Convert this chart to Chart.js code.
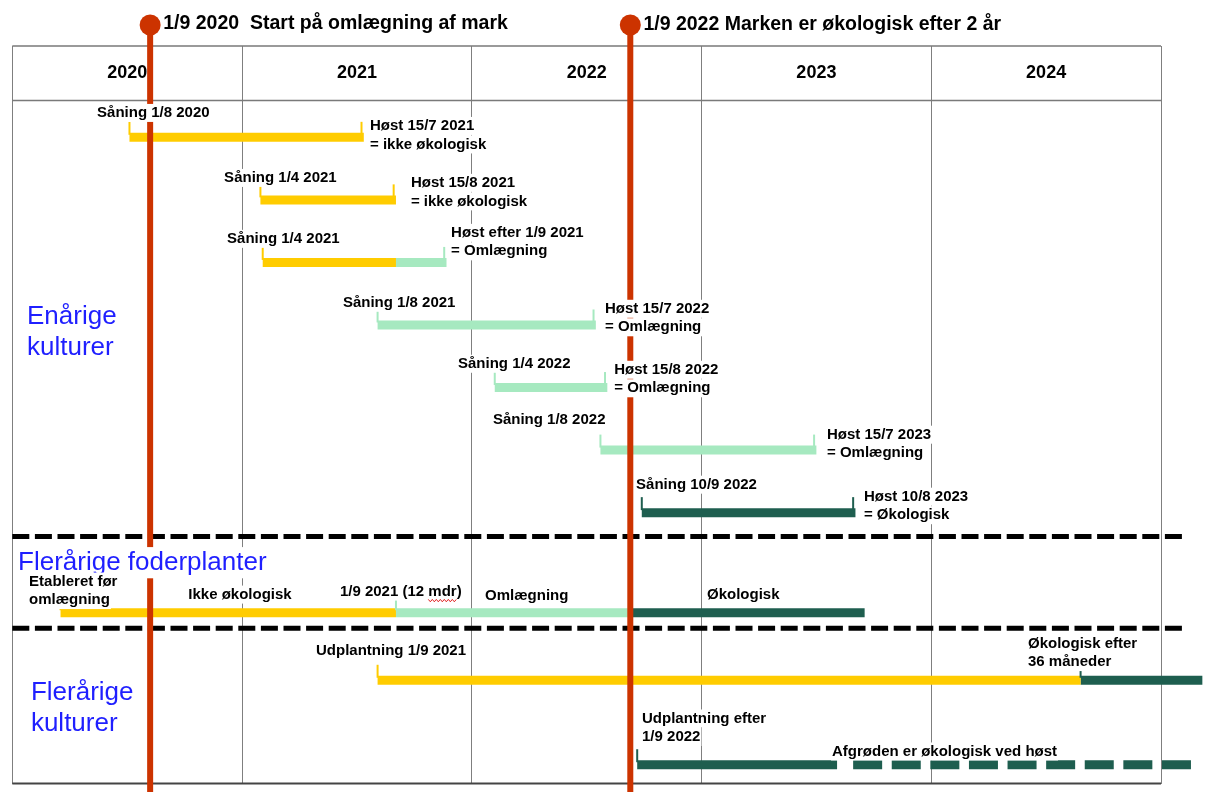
<!DOCTYPE html>
<html>
<head>
<meta charset="utf-8">
<script src="https://cdn.jsdelivr.net/npm/chart.js@4.4.1/dist/chart.umd.min.js"></script>
<style>
  html, body { margin: 0; padding: 0; background: #fff; }
  #wrap { width: 1206px; height: 792px; }
</style>
</head>
<body>
<div id="wrap"><canvas id="myChart"></canvas></div>
<script>
// kolonner i tidslinjen
var years = [2020, 2021, 2022, 2023, 2024];

// rækker: 0-6 enårige, 7.6 foderplanter, 8.68 og 10.03 flerårige
var rowY = [0, 1, 2, 3, 4, 5, 6, 7.6, 8.68, 10.03];

// [række, start, slut] i år
var ikkeOko = [[0, 2020.51, 2021.53], [1, 2021.08, 2021.67], [2, 2021.09, 2021.67], [7, 2020.21, 2021.67], [8, 2021.59, 2024.65]];
var omlaeg = [[2, 2021.67, 2021.89], [3, 2021.59, 2022.54], [4, 2022.10, 2022.59], [5, 2022.56, 2023.50], [7, 2021.67, 2022.69]];
var oko = [[6, 2022.74, 2023.67], [7, 2022.69, 2023.71], [8, 2024.65, 2025.18], [9, 2022.72, 2023.59]];
var okoStiplet = [[9, 2023.66, 2025.17]];

// små streger ved såning / høst: [række, x, fase]
var tickMarks = [
  [0, 2020.51, 0], [0, 2021.52, 0],
  [1, 2021.08, 0], [1, 2021.66, 0],
  [2, 2021.09, 0], [2, 2021.88, 1],
  [3, 2021.59, 1], [3, 2022.53, 1],
  [4, 2022.10, 1], [4, 2022.58, 1],
  [5, 2022.56, 1], [5, 2023.49, 1],
  [6, 2022.74, 2], [6, 2023.66, 2],
  [7, 2020.21, 0], [7, 2021.67, 1],
  [8, 2021.59, 0], [8, 2024.65, 2],
  [9, 2022.72, 2]
];

// milepæle (1/9 2020 og 1/9 2022)
var milestones = [2020.60, 2022.69];
var milestoneText = ['1/9 2020  Start på omlægning af mark', '1/9 2022 Marken er økologisk efter 2 år'];

// stiplede skillelinjer mellem afsnit
var sectionLines = [6.38, 7.85];

var phaseColors = ['#ffcc00', '#a6e9c0', '#1e5e4f'];
var red = '#cc3300';
var FONT = '"Liberation Sans", Arial, sans-serif';

// tekster (x i år, y i rækker)
var notes = [
  { t: ['Såning 1/8 2020'], x: 2020.369, y: -0.39 },
  { t: ['Høst 15/7 2021', '= ikke økologisk'], x: 2021.557, y: -0.182 },
  { t: ['Såning 1/4 2021'], x: 2020.922, y: 0.649 },
  { t: ['Høst 15/8 2021', '= ikke økologisk'], x: 2021.735, y: 0.728 },
  { t: ['Såning 1/4 2021'], x: 2020.935, y: 1.623 },
  { t: ['Høst efter 1/9 2021', '= Omlægning'], x: 2021.910, y: 1.527 },
  { t: ['Såning 1/8 2021'], x: 2021.439, y: 2.645 },
  { t: ['Høst 15/7 2022', '= Omlægning'], x: 2022.580, y: 2.741 },
  { t: ['Såning 1/4 2022'], x: 2021.940, y: 3.620 },
  { t: ['Høst 15/8 2022', '= Omlægning'], x: 2022.620, y: 3.716 },
  { t: ['Såning 1/8 2022'], x: 2022.092, y: 4.515 },
  { t: ['Høst 15/7 2023', '= Omlægning'], x: 2023.546, y: 4.754 },
  { t: ['Såning 10/9 2022'], x: 2022.715, y: 5.553 },
  { t: ['Høst 10/8 2023', '= Økologisk'], x: 2023.707, y: 5.745 },
  { t: ['Etableret før', 'omlægning'], x: 2020.073, y: 7.102 },
  { t: ['Ikke økologisk'], x: 2020.766, y: 7.310 },
  { t: ['1/9 2021 (12 mdr)'], x: 2021.426, y: 7.262, wavy: 'mdr' },
  { t: ['Omlægning'], x: 2022.058, y: 7.326 },
  { t: ['Økologisk'], x: 2023.024, y: 7.310 },
  { t: ['Udplantning 1/9 2021'], x: 2021.322, y: 8.205 },
  { t: ['Økologisk efter', '36 måneder'], x: 2024.421, y: 8.093 },
  { t: ['Udplantning efter', '1/9 2022'], x: 2022.741, y: 9.291 },
  { t: ['Afgrøden er økologisk ved høst'], x: 2023.568, y: 9.818 }
];
var sections = [
  { t: ['Enårige', 'kulturer'], x: 2020.064, y: 2.869 },
  { t: ['Flerårige foderplanter'], x: 2020.025, y: 6.80 },
  { t: ['Flerårige', 'kulturer'], x: 2020.081, y: 8.876 }
];

var headerY = -0.597;
var yearLabelY = -1.029;
var milestoneTop = -1.795;
var tickLift = 0.144;

function barSets(list, color, order) {
  return list.map(function (b) {
    return {
      data: [{ x: b[1], y: rowY[b[0]] }, { x: b[2], y: rowY[b[0]] }],
      borderColor: color, borderWidth: 9, borderCapStyle: 'butt',
      pointRadius: 0, clip: false, order: order
    };
  });
}

var datasets = [];
datasets = datasets.concat(barSets(ikkeOko, phaseColors[0], 6));
datasets = datasets.concat(barSets(omlaeg, phaseColors[1], 6));
datasets = datasets.concat(barSets(oko, phaseColors[2], 6));
okoStiplet.forEach(function (b) {
  datasets.push({
    data: [{ x: b[1], y: rowY[b[0]] }, { x: b[2], y: rowY[b[0]] }],
    borderColor: phaseColors[2], borderWidth: 9, borderCapStyle: 'butt',
    borderDash: [29, 9.6], pointRadius: 0, clip: false, order: 6
  });
});
[0, 1, 2].forEach(function (p) {
  datasets.push({
    data: tickMarks.filter(function (t) { return t[2] === p; }).map(function (t) {
      return { x: t[1], y: rowY[t[0]] - tickLift };
    }),
    showLine: false, pointStyle: 'line', rotation: 90, pointRadius: 6.5,
    pointBorderColor: phaseColors[p], pointBorderWidth: 2, clip: false, order: 5
  });
});
sectionLines.forEach(function (y) {
  datasets.push({
    data: [{ x: 2020, y: y }, { x: 2025.11, y: y }],
    borderColor: '#000', borderWidth: 5, borderDash: [17, 5.6], borderCapStyle: 'butt',
    pointRadius: 0, clip: false, order: 4
  });
});
var milestoneStart = datasets.length;
milestones.forEach(function (m) {
  datasets.push({
    data: [{ x: m, y: milestoneTop }, { x: m, y: 10.5 }],
    borderColor: red, borderWidth: 6, borderCapStyle: 'butt',
    pointRadius: 0, clip: false, order: 2
  });
});

function textBlock(ctx, item, xs, ys, size, weight, color, lineH, bg) {
  ctx.font = weight + ' ' + size + 'px ' + FONT;
  ctx.textBaseline = 'middle';
  ctx.textAlign = 'left';
  var x = xs.getPixelForValue(item.x);
  var y0 = ys.getPixelForValue(item.y);
  item.t.forEach(function (line, i) {
    var cy = y0 + i * lineH;
    var w = ctx.measureText(line).width;
    if (bg) {
      ctx.fillStyle = '#fff';
      ctx.fillRect(x - 1, cy - size * 0.6, w + 2, size * 1.2);
    }
    ctx.fillStyle = color;
    ctx.fillText(line, x, cy);
    if (item.wavy && line.indexOf(item.wavy) >= 0) {
      var pre = line.slice(0, line.indexOf(item.wavy));
      var wx0 = x + ctx.measureText(pre).width;
      var wx1 = wx0 + ctx.measureText(item.wavy).width;
      ctx.beginPath();
      ctx.strokeStyle = '#e02020';
      ctx.lineWidth = 1;
      for (var px = wx0, k = 0; px <= wx1; px += 2, k++) {
        var py = cy + 9 + (k % 2 ? 1.2 : -1.2);
        if (k === 0) ctx.moveTo(px, py); else ctx.lineTo(px, py);
      }
      ctx.stroke();
    }
  });
}

var framePlugin = {
  id: 'frame',
  beforeDatasetsDraw: function (chart) {
    var ctx = chart.ctx, a = chart.chartArea, ys = chart.scales.y;
    ctx.save();
    ctx.strokeStyle = '#7a7a7a';
    ctx.lineWidth = 1.5;
    ctx.beginPath();
    ctx.moveTo(a.left, a.top); ctx.lineTo(a.right, a.top);
    var hy = Math.round(ys.getPixelForValue(headerY)) + 0.5;
    ctx.moveTo(a.left, hy); ctx.lineTo(a.right, hy);
    ctx.stroke();
    ctx.strokeStyle = '#444';
    ctx.lineWidth = 2;
    ctx.beginPath();
    ctx.moveTo(a.left, a.bottom); ctx.lineTo(a.right, a.bottom);
    ctx.stroke();
    ctx.restore();
  },
  afterDatasetsDraw: function (chart) {
    var ctx = chart.ctx, xs = chart.scales.x, ys = chart.scales.y;
    ctx.save();
    // runde knopper øverst på milepælene
    milestones.forEach(function (m, i) {
      var top = chart.getDatasetMeta(milestoneStart + i).data[0];
      ctx.beginPath();
      ctx.fillStyle = red;
      ctx.arc(top.x, top.y, 10.5, 0, Math.PI * 2);
      ctx.fill();
    });
    // årstal i kolonnehoved
    ctx.font = 'bold 18px ' + FONT;
    ctx.textAlign = 'center';
    ctx.textBaseline = 'middle';
    ctx.fillStyle = '#000';
    years.forEach(function (yr) {
      ctx.fillText(String(yr), xs.getPixelForValue(yr + 0.5), ys.getPixelForValue(yearLabelY));
    });
    // milepæle
    milestones.forEach(function (m, i) {
      textBlock(ctx, { t: [milestoneText[i]], x: m + 0.057, y: milestoneTop - (i === 0 ? 0.03 : 0) },
        xs, ys, 19.5, 'bold', '#000', 20, false);
    });
    sections.forEach(function (s) {
      textBlock(ctx, s, xs, ys, 26, 'normal', '#1f1fff', 31.5, true);
    });
    notes.forEach(function (n) {
      textBlock(ctx, n, xs, ys, 15, 'bold', '#000', 18.5, true);
    });
    ctx.restore();
  }
};

Chart.defaults.font.family = FONT;

var ctx = document.getElementById('myChart').getContext('2d');
var myChart = new Chart(ctx, {
  type: 'line',
  data: { datasets: datasets },
  plugins: [framePlugin],
  options: {
    responsive: true,
    maintainAspectRatio: false,
    animation: false,
    events: [],
    layout: { padding: { left: 12.3, top: 46, right: 45, bottom: 8 } },
    plugins: { legend: { display: false }, tooltip: { enabled: false } },
    scales: {
      x: {
        type: 'linear', min: 2020, max: 2025,
        ticks: { display: false, stepSize: 1 },
        grid: { color: '#7f7f7f', lineWidth: 1, drawTicks: false },
        border: { display: false }
      },
      y: {
        type: 'linear', reverse: true, min: -1.46, max: 10.33,
        display: false
      }
    }
  }
});
</script>
</body>
</html>
